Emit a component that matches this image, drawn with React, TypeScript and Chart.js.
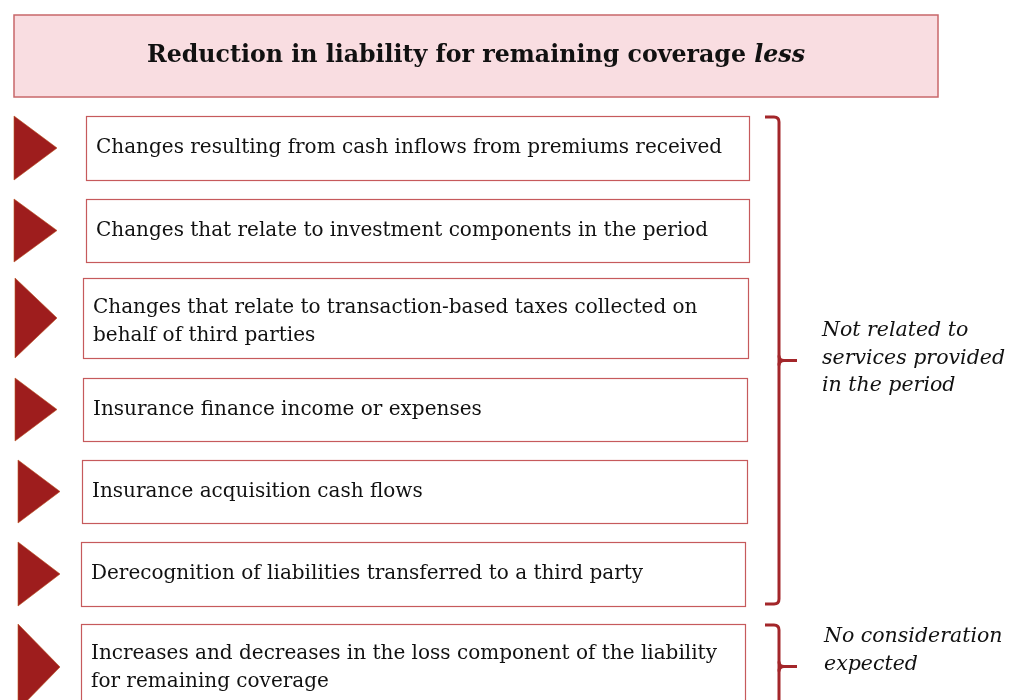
import React, { useEffect, useRef } from "react";
import { Chart, registerables } from "chart.js";
Chart.register(...registerables);

// ---- content ----
const titleText = "Reduction in liability for remaining coverage";
const titleItalic = "less";
const itemLines: string[][] = [
  ["Changes resulting from cash inflows from premiums received"],
  ["Changes that relate to investment components in the period"],
  ["Changes that relate to transaction-based taxes collected on", "behalf of third parties"],
  ["Insurance finance income or expenses"],
  ["Insurance acquisition cash flows"],
  ["Derecognition of liabilities transferred to a third party"],
  ["Increases and decreases in the loss component of the liability", "for remaining coverage"],
];
const groupLabels: string[][] = [
  ["Not related to", "services provided", "in the period"],
  ["No consideration", "expected"],
];
const groupFirstItem = [0, 6];
const groupLastItem = [5, 6];

// ---- layout (diagram units) ----
const W = 1015;
const H = 700;
const titleBox = { l: 14, r: 938, t: 15, b: 97 };
const rowTop = [116, 199, 278, 378, 460, 542, 624];
const rowBottom = [180, 262, 358, 441, 523, 606, 710];
const boxLeft = [86, 86, 83, 83, 82, 81, 81];
const boxRight = [749, 749, 748, 747, 747, 745, 745];
const triLeft = [14, 14, 15, 15, 18, 18, 18];
const triRight = [57, 57, 57, 57, 60, 60, 60];
const textPad = 10;
const lineGap = 27.5;
const bracketX = 779;
const bracketArm = 14;
const bracketTip = 18;
const labelX = [822, 824];
const labelY = [331, 637];
const labelGap = 27.5;

const SERIF = '"DejaVu Serif", "Liberation Serif", serif';

const diagramPlugin = {
  id: "diagram",
  afterDraw(chart: any) {
    const ctx = chart.ctx as CanvasRenderingContext2D;
    const xs = chart.scales.x;
    const ys = chart.scales.y;
    const X = (v: number) => xs.getPixelForValue(v);
    const Y = (v: number) => ys.getPixelForValue(v);
    ctx.save();

    // title box
    ctx.fillStyle = "#F9DDE1";
    ctx.fillRect(X(titleBox.l), Y(titleBox.t), X(titleBox.r) - X(titleBox.l), Y(titleBox.b) - Y(titleBox.t));
    ctx.strokeStyle = "#C8676A";
    ctx.lineWidth = 1.5;
    ctx.strokeRect(X(titleBox.l), Y(titleBox.t), X(titleBox.r) - X(titleBox.l), Y(titleBox.b) - Y(titleBox.t));
    const boldFont = `bold 23.7px ${SERIF}`;
    const italFont = `italic bold 23.7px ${SERIF}`;
    ctx.font = boldFont;
    const w1 = ctx.measureText(titleText + " ").width;
    ctx.font = italFont;
    const w2 = ctx.measureText(titleItalic).width;
    const cx = (X(titleBox.l) + X(titleBox.r)) / 2;
    const cy = (Y(titleBox.t) + Y(titleBox.b)) / 2;
    const sx = cx - (w1 + w2) / 2;
    ctx.fillStyle = "#111111";
    ctx.textBaseline = "middle";
    ctx.textAlign = "left";
    ctx.font = boldFont;
    ctx.fillText(titleText + " ", sx, cy);
    ctx.font = italFont;
    ctx.fillText(titleItalic, sx + w1, cy);

    // rows
    itemLines.forEach((lines, i) => {
      const t = Y(rowTop[i]);
      const b = Y(rowBottom[i]);
      const l = X(boxLeft[i]);
      const r = X(boxRight[i]);
      // triangle
      ctx.beginPath();
      ctx.moveTo(X(triLeft[i]), t);
      ctx.lineTo(X(triRight[i]), (t + b) / 2);
      ctx.lineTo(X(triLeft[i]), b);
      ctx.closePath();
      ctx.fillStyle = "#9E1D1D";
      ctx.fill();
      ctx.strokeStyle = "#B8501E";
      ctx.lineWidth = 0.6;
      ctx.stroke();
      // box
      ctx.fillStyle = "#FFFFFF";
      ctx.fillRect(l, t, r - l, b - t);
      ctx.strokeStyle = "#C65A5C";
      ctx.lineWidth = 1.2;
      ctx.strokeRect(Math.round(l) + 0.5, Math.round(t) + 0.5, Math.round(r - l), Math.round(b - t));
      // text
      ctx.fillStyle = "#111111";
      ctx.font = `20px ${SERIF}`;
      ctx.textBaseline = "middle";
      const boxMid = (Y(rowTop[i]) + Y(Math.min(rowBottom[i], rowTop[i] + 80))) / 2 + 4;
      const mid = lines.length === 1 ? (t + b) / 2 : boxMid;
      lines.forEach((ln, k) => {
        const yy = mid + (k - (lines.length - 1) / 2) * lineGap;
        ctx.fillText(ln, l + textPad, yy);
      });
    });

    // brackets and labels
    groupLabels.forEach((lab, g) => {
      const top = Y(rowTop[groupFirstItem[g]]) + 1;
      const bot = Y(rowBottom[groupLastItem[g]]) - 2;
      const mid = (top + bot) / 2;
      const bx = X(bracketX);
      const r = 5;
      ctx.strokeStyle = "#A3262A";
      ctx.lineWidth = 3;
      ctx.lineCap = "butt";
      ctx.beginPath();
      ctx.moveTo(bx - bracketArm, top);
      ctx.lineTo(bx - r, top);
      ctx.quadraticCurveTo(bx, top, bx, top + r);
      ctx.lineTo(bx, bot - r);
      ctx.quadraticCurveTo(bx, bot, bx - r, bot);
      ctx.lineTo(bx - bracketArm, bot);
      ctx.stroke();
      ctx.beginPath();
      ctx.moveTo(bx, mid - r);
      ctx.quadraticCurveTo(bx, mid, bx + r, mid);
      ctx.lineTo(bx + bracketTip, mid);
      ctx.moveTo(bx, mid + r);
      ctx.quadraticCurveTo(bx, mid, bx + r, mid);
      ctx.stroke();

      ctx.fillStyle = "#111111";
      ctx.font = `italic 20.5px ${SERIF}`;
      ctx.textBaseline = "middle";
      lab.forEach((ln, k) => {
        ctx.fillText(ln, X(labelX[g]), Y(labelY[g] + k * labelGap));
      });
    });

    ctx.restore();
  },
};

export default function App() {
  const ref = useRef<HTMLCanvasElement | null>(null);
  useEffect(() => {
    if (!ref.current) return;
    const chart = new Chart(ref.current, {
      type: "scatter",
      data: { datasets: [{ data: [], pointRadius: 0 }] },
      options: {
        animation: false,
        responsive: false,
        devicePixelRatio: 1,
        layout: { padding: 0 },
        plugins: { legend: { display: false }, title: { display: false }, tooltip: { enabled: false } },
        scales: {
          x: { type: "linear", min: 0, max: W, display: false },
          y: { type: "linear", min: 0, max: H, reverse: true, display: false },
        },
      },
      plugins: [diagramPlugin],
    });
    return () => chart.destroy();
  }, []);
  return (
    <div style={{ position: "absolute", left: 0, top: 0, width: W, height: H, background: "#fff" }}>
      <canvas ref={ref} width={W} height={H} style={{ display: "block" }} />
    </div>
  );
}
